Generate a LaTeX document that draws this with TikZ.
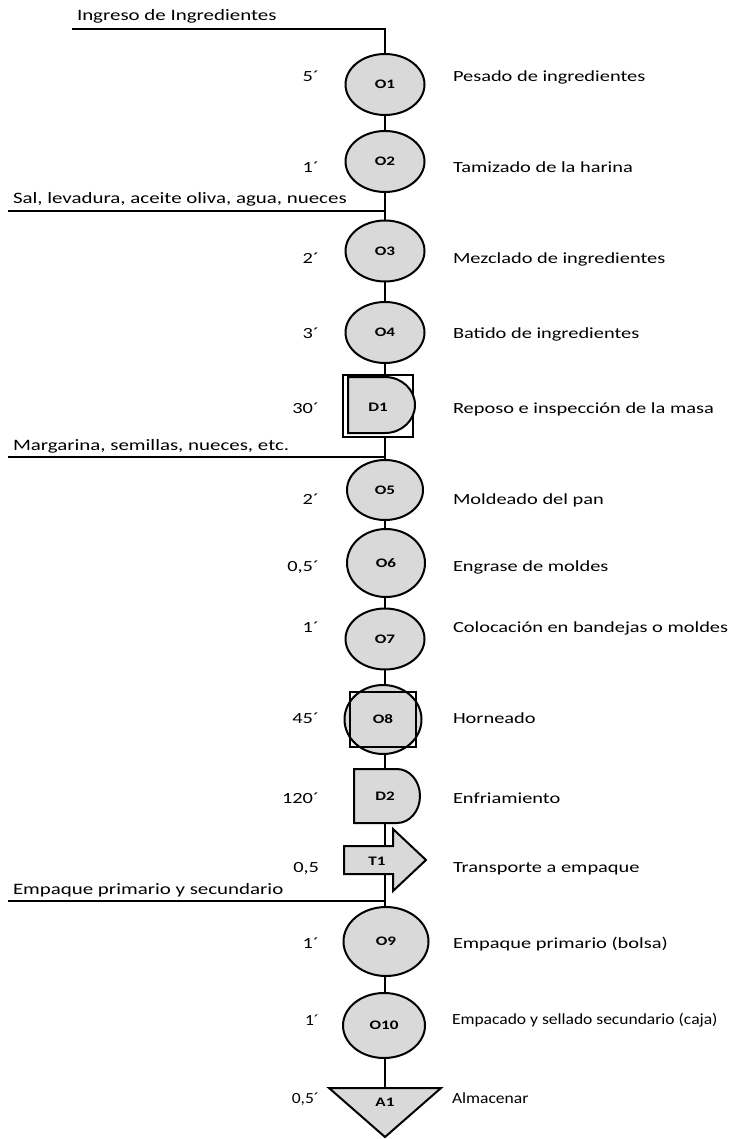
\documentclass[tikz,border=0pt]{standalone}
\usepackage{fontspec}
\setmainfont{Carlito}[FakeStretch=1.315]
\newfontfamily\narrowfont{Carlito}[FakeStretch=1.13]
\usetikzlibrary{shapes.geometric,backgrounds}
\definecolor{shp}{HTML}{D9D9D9}
\begin{document}
\begin{tikzpicture}[x=1pt,y=-1pt,
  every node/.style={inner sep=0pt,outer sep=0pt},
  txt/.style={font=\fontsize{15.5}{18}\selectfont,anchor=base west},
  itxt/.style={font=\fontsize{15.9}{18}\selectfont,anchor=base west},
  tm/.style={font=\fontsize{15.5}{18}\selectfont,anchor=base east},
  ntxt/.style={font=\fontsize{15.5}{18}\selectfont\narrowfont,anchor=base west},
  ntm/.style={font=\fontsize{15.5}{18}\selectfont\narrowfont,anchor=base east},
  lbl/.style={font=\fontsize{13}{15}\selectfont\bfseries},
  op/.style={ellipse,draw,fill=shp,line width=2pt,minimum width=79pt,minimum height=61pt,font=\fontsize{13}{15}\selectfont\bfseries},
  ln/.style={line width=1.8pt},
  sh/.style={draw,fill=shp,line width=2pt}]
\useasboundingbox (0,0) rectangle (742,1139);

% input lines
\coordinate (in1) at (72,29);  \coordinate (j1) at (385,29);
\coordinate (in2) at (8,211);  \coordinate (j2) at (385,211);
\coordinate (in3) at (8,457);  \coordinate (j3) at (385,457);
\coordinate (in4) at (8,901);  \coordinate (j4) at (385,901);
\node[itxt] (tin1) at (77,21) {Ingreso de Ingredientes};
\node[itxt] (tin2) at (13,204) {Sal, levadura, aceite oliva, agua, nueces};
\node[itxt] (tin3) at (13,450) {Margarina, semillas, nueces, etc.};
\node[itxt] (tin4) at (13,894) {Empaque primario y secundario};

% operations
\node[op] (O1) at (385,84.5) {O1};
\node[op] (O2) at (385,161.5) {O2};
\node[op] (O3) at (385,251) {O3};
\node[op] (O4) at (385,332.5) {O4};

% D1
\node[draw,fill=white,line width=2pt,minimum width=70pt,minimum height=62pt] (D1box) at (378,406) {};
\filldraw[sh] (348,377) -- (385,377) arc[start angle=-90,end angle=90,x radius=30,y radius=28] -- (348,433) -- cycle;
\node[minimum height=62pt] (D1) at (385,406) {};
\node[lbl] (D1l) at (378,407) {D1};

\node[op,minimum width=76pt,minimum height=60pt] (O5) at (385,490) {O5};
\node[op,minimum width=78pt,minimum height=68pt] (O6) at (386,563) {O6};
\node[op] (O7) at (385,639) {O7};
\node[op,minimum width=77pt,minimum height=69pt] (O8) at (383,719.5) {O8};
\draw[line width=2pt] (350,692) rectangle (416,747);

% D2
\filldraw[sh] (354,769) -- (397,769) arc[start angle=-90,end angle=90,x radius=23,y radius=27] -- (354,823) -- cycle;
\node[lbl,minimum height=54pt] (D2) at (385,796) {D2};

% T1
\filldraw[sh] (344,846) -- (393,846) -- (393,829) -- (426,860) -- (393,891) -- (393,874) -- (344,874) -- cycle;
\node[minimum height=28pt] (T1) at (385,860) {};
\node[lbl] (T1l) at (377,861) {T1};

\node[op,minimum width=85pt,minimum height=69pt] (O9) at (386,941.5) {O9};
\node[op,minimum width=82pt,minimum height=65pt] (O10) at (384,1025.5) {O10};

% A1
\filldraw[sh] (329,1088) -- (441,1088) -- (385,1137) -- cycle;
\node[lbl,minimum height=28pt] (A1) at (385,1102) {A1};

% times
\node[tm] (tO1) at (319,82) {5´};
\node[tm] (tO2) at (319,173) {1´};
\node[tm] (tO3) at (319,264) {2´};
\node[tm] (tO4) at (319,338) {3´};
\node[tm] (tD1) at (319,413) {30´};
\node[tm] (tO5) at (319,504) {2´};
\node[tm] (tO6) at (319,571) {0,5´};
\node[tm] (tO7) at (319,632) {1´};
\node[tm] (tO8) at (319,723) {45´};
\node[tm] (tD2) at (319,803) {120´};
\node[tm] (tT1) at (319,872) {0,5};
\node[tm] (tO9) at (319,948) {1´};
\node[ntm] (tO10) at (319,1025) {1´};
\node[ntm] (tA1) at (319,1103) {0,5´};

% descriptions
\node[txt] (dO1) at (453,82) {Pesado de ingredientes};
\node[txt] (dO2) at (453,173) {Tamizado de la harina};
\node[txt] (dO3) at (453,264) {Mezclado de ingredientes};
\node[txt] (dO4) at (453,338) {Batido de ingredientes};
\node[txt] (dD1) at (453,413) {Reposo e inspección de la masa};
\node[txt] (dO5) at (453,504) {Moldeado del pan};
\node[txt] (dO6) at (453,571) {Engrase de moldes};
\node[txt] (dO7) at (453,632) {Colocación en bandejas o moldes};
\node[txt] (dO8) at (453,723) {Horneado};
\node[txt] (dD2) at (453,803) {Enfriamiento};
\node[txt] (dT1) at (453,872) {Transporte a empaque};
\node[txt] (dO9) at (453,948) {Empaque primario (bolsa)};
\node[ntxt] (dO10) at (452,1024) {Empacado y sellado secundario (caja)};
\node[ntxt] (dA1) at (452,1103) {Almacenar};

% connectors
\begin{scope}[on background layer]
\draw[ln] (in1) -- (j1) -- (O1.north -| j1);
\draw[ln] (O1.south -| j1) -- (O2.north -| j1);
\draw[ln] (in2) -- (j2);
\draw[ln] (O2.south -| j2) -- (j2) -- (O3.north -| j2);
\draw[ln] (O3.south -| j2) -- (O4.north -| j2);
\draw[ln] (O4.south -| j2) -- (D1);
\draw[ln] (in3) -- (j3);
\draw[ln] (D1) -- (j3) -- (O5.north -| j3);
\draw[ln] (O5.south -| j3) -- (O6.north -| j3);
\draw[ln] (O6.south -| j3) -- (O7.north -| j3);
\draw[ln] (O7.south -| j3) -- (O8.north -| j3);
\draw[ln] (O8.south -| j3) -- (D2);
\draw[ln] (D2) -- (T1);
\draw[ln] (in4) -- (j4);
\draw[ln] (T1) -- (j4) -- (O9.north -| j4);
\draw[ln] (O9.south -| j4) -- (O10.north -| j4);
\draw[ln] (O10.south -| j4) -- (A1);
\end{scope}
\end{tikzpicture}
\end{document}
